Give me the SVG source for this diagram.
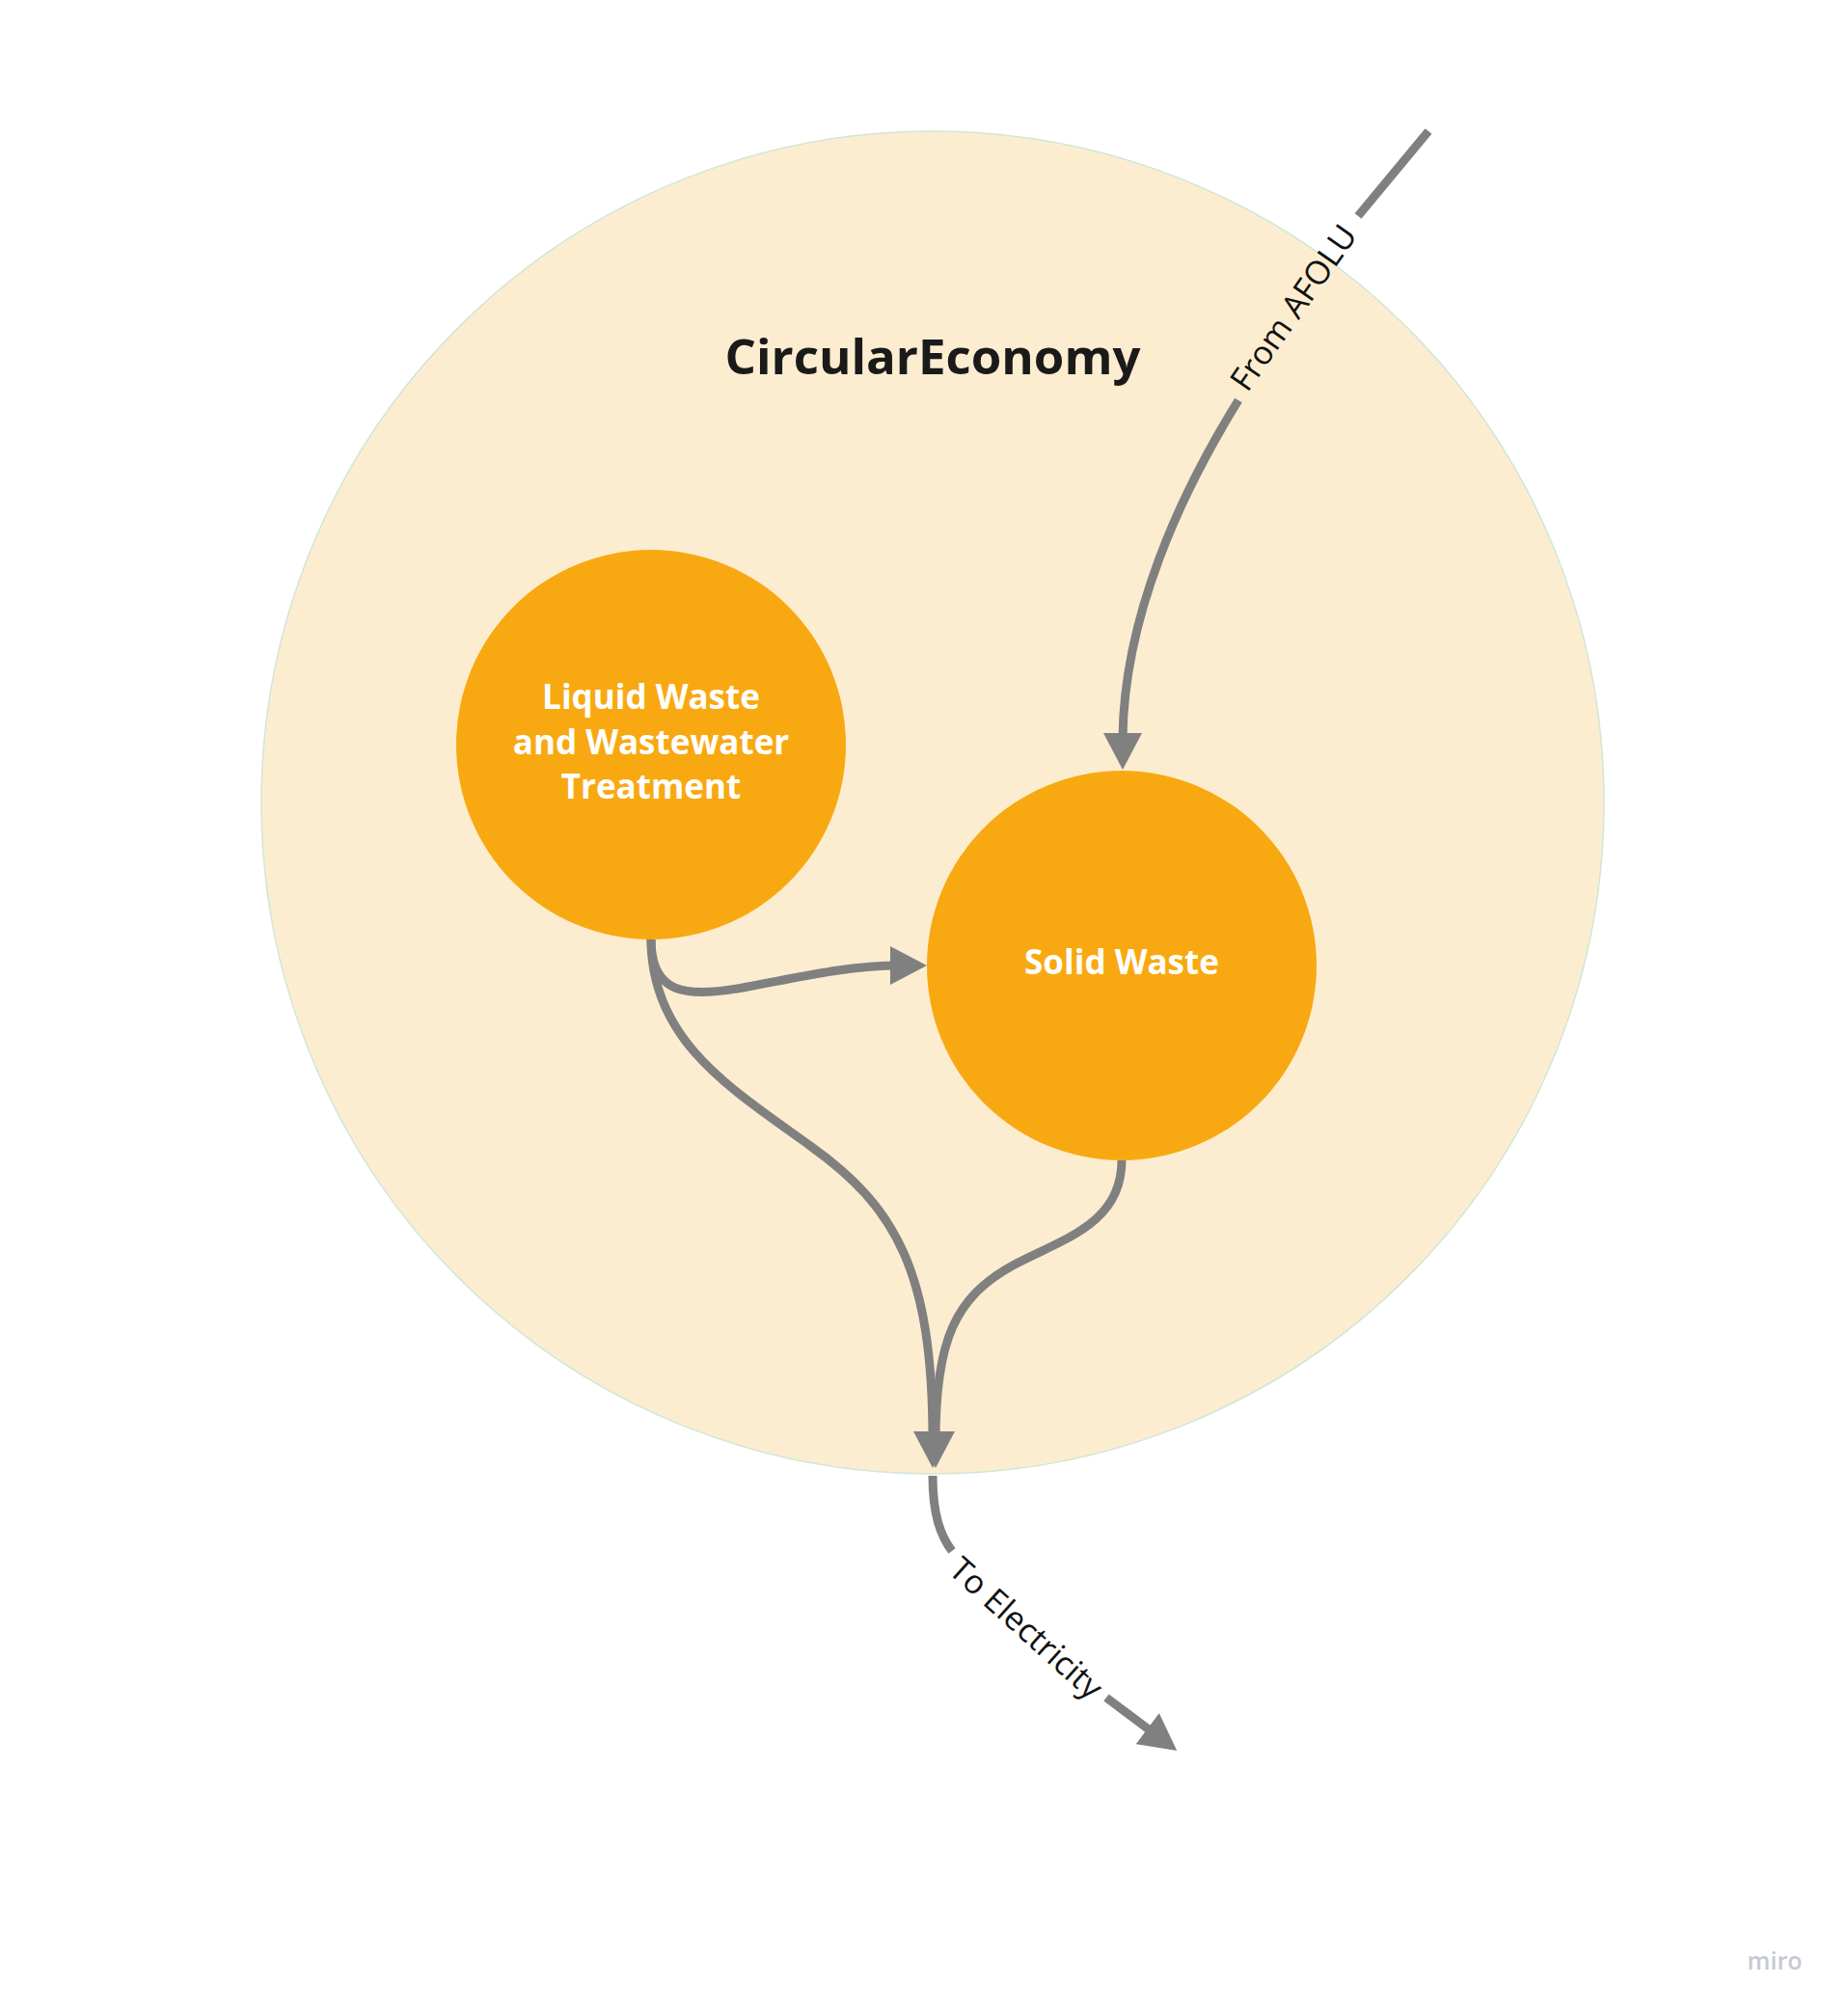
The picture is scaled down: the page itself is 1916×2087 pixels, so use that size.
<svg xmlns="http://www.w3.org/2000/svg" width="1916" height="2087" viewBox="0 0 1916 2087">
  <defs>
    <marker id="arrow" viewBox="0 0 38 40" markerUnits="userSpaceOnUse" markerWidth="38" markerHeight="40" refX="9" refY="20" orient="auto">
      <path d="M0,0 L38,20 L0,40 Z" fill="#808080"/>
    </marker>
    <style>
      .node-text { font-family: "Open Sans", "Noto Sans", "Liberation Sans", sans-serif; font-weight: 700; fill: #ffffff; text-anchor: middle; font-size: 35px; }
      .title { font-family: "Open Sans", "Noto Sans", "Liberation Sans", sans-serif; font-weight: 700; fill: #1a1a1a; text-anchor: middle; font-size: 51px; }
      .edge { fill: none; stroke: #808080; stroke-width: 9; }
      .edge-label { font-family: "Open Sans", "Noto Sans", "Liberation Sans", sans-serif; font-weight: 400; fill: #111111; text-anchor: middle; font-size: 34px; }
      .orange { fill: #f8a912; }
    </style>
  </defs>
  <rect x="0" y="0" width="1916" height="2087" fill="#ffffff"/>

  <g id="circular-economy">
    <circle cx="967" cy="832" r="696" fill="#fdedd0" stroke="#cfe7d6" stroke-width="1.5"/>
    <text class="title" x="967" y="388">CircularEconomy</text>
  </g>

  <g id="liquid-waste">
    <circle class="orange" cx="675" cy="772" r="202"/>
    <text class="node-text" x="675" y="735">Liquid Waste</text>
    <text class="node-text" x="675" y="782">and Wastewater</text>
    <text class="node-text" x="675" y="828">Treatment</text>
  </g>

  <g id="solid-waste">
    <circle class="orange" cx="1163" cy="1001" r="202"/>
    <text class="node-text" x="1163" y="1010">Solid Waste</text>
  </g>

  <g id="connectors">
    <!-- From AFOLU -> Solid Waste -->
    <path class="edge" d="M1481,136 L1408,224"/>
    <text class="edge-label" x="1341" y="319" dy="0.35em" transform="rotate(-55 1341 319)">From AFOLU</text>
    <path class="edge" d="M1284,415 C1225,510 1164,640 1164,769" marker-end="url(#arrow)"/>

    <!-- Liquid Waste -> Solid Waste -->
    <path class="edge" d="M675,974 C675,1030 710,1035 770,1024 C830,1013 880,1001 932,1001" marker-end="url(#arrow)"/>

    <!-- Liquid Waste -> Electricity merge -->
    <path class="edge" d="M675,974 C675,1080 760,1130 840,1188 C930,1252 967,1320 967,1493" marker-end="url(#arrow)"/>

    <!-- Solid Waste -> Electricity merge -->
    <path class="edge" d="M1163,1203 C1163,1270 1100,1285 1050,1312 C990,1345 970,1390 970,1493" marker-end="url(#arrow)"/>

    <!-- To Electricity -->
    <path class="edge" d="M967,1530 C967,1570 975,1592 987,1608"/>
    <text class="edge-label" x="1064" y="1688" dy="0.35em" transform="rotate(42 1064 1688)">To Electricity</text>
    <path class="edge" d="M1147,1760 L1197,1797.5" marker-end="url(#arrow)"/>
  </g>

  <text x="1840" y="2042" text-anchor="middle" font-family="'Open Sans', 'Noto Sans', 'Liberation Sans', sans-serif" font-weight="600" font-size="25" fill="#c7c8d6">miro</text>
</svg>
